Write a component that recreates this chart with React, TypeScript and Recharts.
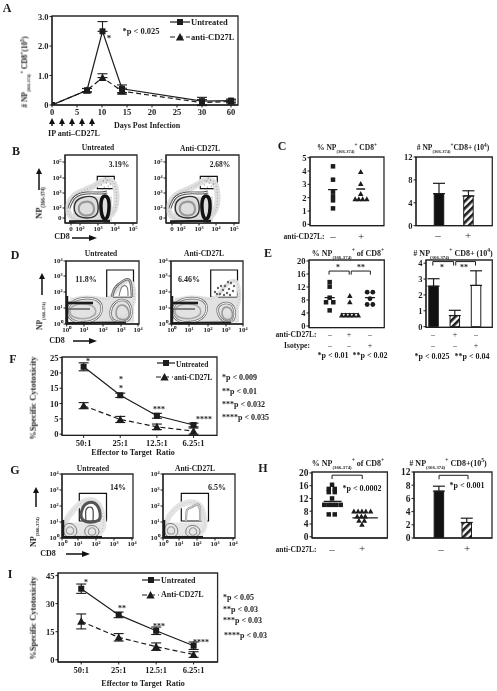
import React from "react";
import {
  ComposedChart,
  Line,
  Bar,
  Cell,
  Scatter,
  XAxis,
  YAxis,
  ErrorBar,
  ReferenceArea,
  ReferenceLine,
} from "recharts";

const FONT = '"Liberation Serif", "Times New Roman", serif';
const INK = "#1c1c1c";
const PAD_L = 30;
const PAD_R = 6;
const PAD_T = 6;
const PAD_B = 24;

// Panel A: kinetics (x is the broken axis position, 35.8 is printed as 60)
const aDays = [0, 7, 10.1, 14, 30, 35.8];
const aUntreated = [0, 0.5, 2.5, 0.55, 0.13, 0.15];
const aUntreatedErr = [0, 0.06, [0, 0.33], 0.13, 0.13, 0.05];
const aAnti = [0, 0.5, 0.93, 0.47, 0.08, 0.12];
const aAntiErr = [0, 0.06, [0, 0.13], 0.1, 0.1, 0.05];
const aTicks = [0, 5, 10, 15, 20, 25, 30, 35.8];
const aYTicks = [0, 1, 2, 3];

// Panels C, E, H: per-mouse scatter values
const cSquareX = [1, 1, 1, 1, 1, 1];
const cSquareY = [4.35, 3.35, 2.45, 2.1, 1.8, 1.2];
const cTriangleX = [2, 2, 2, 1.8, 1.93, 2.07, 2.22];
const cTriangleY = [3.95, 3.05, 2.3, 1.9, 1.9, 1.9, 1.9];
const cMeans = [2.6, 2.65];

const eSquareX = [1, 1, 1, 0.82, 1.18, 1];
const eSquareY = [13.5, 12.1, 8.7, 7.3, 7.3, 4.8];
const eTriangleX = [2, 2, 1.6, 1.8, 2, 2.2, 2.42];
const eTriangleY = [9.3, 7.4, 3.3, 3.3, 3.3, 3.3, 3.3];
const eCircleX = [2.86, 3.14, 3, 2.86, 3.14];
const eCircleY = [10.4, 10.4, 8.4, 6.6, 6.6];
const eMeans = [8.7, 3.8, 8.7];

const hSquareX = [1, 0.89, 1.09, 0.89, 1.09, 1, 0.74, 0.88, 1, 1.14, 1.29, 0.89, 1.09];
const hSquareY = [16.3, 15, 15, 14, 14, 12, 10, 10, 10, 10, 10, 7, 7];
const hTriangleX = [1.73, 1.87, 2, 2.13, 2.29, 1.84, 1.98, 2.11, 1.9, 2.08, 2];
const hTriangleY = [8, 8, 8, 8, 8, 6.4, 6.4, 6.4, 5.1, 5.1, 3.8];
const hMeans = [11.1, 5.9];

// Panels C, E, H: bars
const cBarValues = [5.6, 5.2];
const cBarErr = [[0, 1.8], [0, 0.9]];
const eBarValues = [2.55, 0.7, 2.6];
const eBarErr = [[0, 0.47], [0, 0.33], [0, 0.92]];
const hBarValues = [7.1, 2.35];
const hBarErr = [[0, 0.75], [0, 0.65]];

// Panels F and I: cytotoxicity
const ratioTicks = [1, 2, 3, 4];
const ratioLabels = ["50:1", "25:1", "12.5:1", "6.25:1"];
const fUntreated = [22, 12.7, 6, 3];
const fUntreatedErr = [1.3, 0.7, 0.8, 0.6];
const fAnti = [9.3, 4.8, 2.4, 1.0];
const fAntiErr = [1.0, 1.0, 0.9, 1.0];
const iUntreated = [38, 24, 15.5, 7.5];
const iUntreatedErr = [2.5, 1.5, 2, 2];
const iAnti = [20.5, 12, 7, 2.8];
const iAntiErr = [4, 2, 2, 1.5];

// Flow plots: channels, contours
const bXTicks = [6, 15, 33, 50, 68];
const bXLabels = ["0", "10²", "10³", "10⁴", "10⁵"];
const bYTicks = [5, 15, 30, 45, 61];
const bYLabels = ["0", "10²", "10³", "10⁴", "10⁵"];
const dLogLabels = ["10⁰", "10¹", "10²", "10³", "10⁴"];
const dXTicks = [0.7, 18, 37, 55, 72];
const dYTicks = [0, 16, 32, 48, 63];
const gXTicks = [0, 16, 34, 52, 70];
const gYTicks = [0, 16, 32, 48, 64];

const bFill = [[8, 14], [47, 14]];
const bCloud = [[5, 4], [6, 22], [14, 30], [30, 35], [36, 41], [46, 41], [49, 32], [49, 4]];
const bArch = [[4, 15], [10, 26], [22, 30], [35, 30], [42, 31]];
const bLeftBlob = [[11, 6], [10, 20], [17, 25], [30, 26], [32, 18], [32, 6]];
const bLeftInner = [[15, 8], [14, 18], [20, 21], [28, 20], [29, 8]];
const bRightBlob = [[37, 26], [43, 26], [44, 15], [42, 5], [38, 5], [36, 15]];
const bBase = [[4, 1.5], [45, 2]];
const bGateDots = [[36, 38], [39, 36], [41, 40], [43, 37], [38, 42], [42, 43], [45, 39], [40, 45], [37, 34], [44, 34]];

const dFill = [[4, 14], [68, 14]];
const dCloud = [[5, 4], [5, 26], [30, 27], [43, 23], [49, 33], [58, 42], [65, 41], [66, 4]];
const dLeftBlob = [[3, 23], [28, 26], [36, 17], [30, 3], [3, 2]];
const dLeftInner = [[5, 19], [24, 20], [30, 13], [25, 6], [5, 6]];
const dBandTop = [[2, 21], [27, 21]];
const dBandMid = [[2, 15], [24, 15]];
const dRightBlob = [[48, 20], [56, 24], [64, 20], [65, 3], [47, 3], [45, 12]];
const dRightInner = [[51, 17], [57, 19], [62, 15], [63, 5], [50, 5]];
const dArch = [[46, 27], [49, 36], [57, 43], [64, 43], [66, 27]];
const dArchInner = [[53, 28], [56, 37], [61, 37], [62, 28]];
const dBase = [[2, 1], [60, 1.5]];
const dEdge = [[1, 0], [1, 28]];
const d2RightBlob = [[48, 18], [56, 21], [63, 17], [63, 3], [52, 3], [47, 12]];
const d2RightInner = [[51, 15], [57, 17], [61, 13], [61, 5], [52, 5]];
const d2GateDots = [[44, 32], [47, 36], [49, 30], [52, 34], [54, 38], [56, 31], [58, 35], [60, 41], [62, 33], [57, 42], [50, 38], [63, 38], [46, 30], [59, 29], [53, 29]];

const gFill = [[3, 8], [40, 8]];
const gCloud = [[4, 4], [5, 17], [11, 25], [21, 36], [35, 36], [39, 20], [40, 4]];
const gLeftBlob = [[2, 14], [12, 14], [15, 6], [12, 1.5], [2, 1.5]];
const gLeftInner = [[5, 11], [11, 11], [12, 4], [4, 4]];
const gRightBlob = [[25, 12], [34, 12], [37, 6], [34, 1.5], [25, 1.5], [23, 6]];
const gRightInner = [[27, 10], [33, 10], [34, 3], [26, 3]];
const gArch = [[19, 17], [21, 30], [26, 35], [35, 34], [38, 21], [35, 17]];
const gArchInner = [[24, 17], [24, 28], [28, 31], [31, 28], [31, 17]];
const gBase = [[1, 1], [40, 1]];
const gEdge = [[1, 0], [1, 18]];
const g2Arch = [[23, 17], [24, 28], [29, 31], [36, 33], [37, 17]];
const g2Cloud = [[4, 4], [5, 17], [11, 26], [21, 34], [36, 34], [39, 20], [40, 4]];

const toPoints = (xs: number[], ys: number[]) => xs.map((x, i) => ({ x, y: ys[i] }));
const ring = (pairs: number[][]) => pairs.map(([x, y]) => ({ x, y }));
const seriesTable = (xs: number[], a: number[], aErr: any[], b: number[], bErr: any[]) =>
  xs.map((x, i) => ({ x, a: a[i], aErr: aErr[i], b: b[i], bErr: bErr[i] }));
const barTable = (values: number[], errs: number[][]) =>
  values.map((value, i) => ({ x: i + 1, value, err: errs[i] }));

// basisClosed pulls a loop inwards, so push the read points out a little
const inflate = (pairs: number[][]) => {
  const cx = pairs.reduce((s, p) => s + p[0], 0) / pairs.length;
  const cy = pairs.reduce((s, p) => s + p[1], 0) / pairs.length;
  return pairs.map(([x, y]) => [cx + (x - cx) * 1.15, Math.max(0.3, cy + (y - cy) * 1.15)]);
};

const squareOf = (s: number) => (props: any) => (
  <rect key={props.key} x={props.cx - s / 2} y={props.cy - s / 2} width={s} height={s} fill={INK} />
);
const triangleOf = (s: number) => (props: any) => (
  <polygon
    key={props.key}
    points={`${props.cx},${props.cy - s * 0.55} ${props.cx + s * 0.55},${props.cy + s * 0.45} ${props.cx - s * 0.55},${props.cy + s * 0.45}`}
    fill={INK}
  />
);
const SquareMark = squareOf(6);
const TriangleMark = triangleOf(7.5);
const SmallSquare = squareOf(4.5);
const SmallTriangle = triangleOf(5);
const CircleMark = (props: any) => <circle key={props.key} cx={props.cx} cy={props.cy} r={2.4} fill={INK} />;
const SmallDot = (props: any) => <circle key={props.key} cx={props.cx} cy={props.cy} r={0.6} fill="#666" />;
const GateDot = (props: any) => <circle key={props.key} cx={props.cx} cy={props.cy} r={1.2} fill="#666" />;

const tickStyle = { fontFamily: FONT, fontWeight: 700, fontSize: 8.5, fill: INK };

function Panel(props: any) {
  const { box, xDomain, yDomain, xTicks, yTicks, xFormat, yFormat, data, tickMargin, children, size } = props;
  return (
    <div style={{ position: "absolute", left: box[0] - PAD_L, top: box[1] - PAD_T, willChange: "transform" }}>
      <ComposedChart
        width={box[2] - box[0] + PAD_L + PAD_R}
        height={box[3] - box[1] + PAD_T + PAD_B}
        data={data}
        margin={{ top: PAD_T, right: PAD_R, left: 0, bottom: 0 }}
      >
        <defs>
          <pattern id="hatch" width="5" height="5" patternUnits="userSpaceOnUse" patternTransform="rotate(-45)">
            <rect width="5" height="5" fill="#fff" />
            <rect width="5" height="2.6" fill={INK} />
          </pattern>
        </defs>
        <XAxis
          dataKey="x"
          type="number"
          domain={xDomain}
          ticks={xTicks}
          tickFormatter={xFormat}
          interval={0}
          allowDataOverflow
          height={PAD_B}
          stroke={INK}
          tick={{ ...tickStyle, fontSize: size ?? 8.5 }}
          tickSize={2.5}
          tickMargin={tickMargin ?? 1}
        />
        <YAxis
          dataKey="y"
          type="number"
          domain={yDomain}
          ticks={yTicks}
          tickFormatter={yFormat}
          interval={0}
          allowDataOverflow
          width={PAD_L}
          stroke={INK}
          tick={{ ...tickStyle, fontSize: size ?? 8.5 }}
          tickSize={2.5}
          tickMargin={1}
        />
        {children}
        <ReferenceArea
          x1={xDomain[0]}
          x2={xDomain[1]}
          y1={yDomain[0]}
          y2={yDomain[1]}
          fill="none"
          stroke="#2a2a2a"
          strokeWidth={1.3}
          ifOverflow="visible"
        />
      </ComposedChart>
    </div>
  );
}

const contour = (pairs: number[][], stroke: string, width: number, dash?: string, closed = true) => (
  <Line
    data={ring(closed ? inflate(pairs) : pairs)}
    dataKey="y"
    type={closed ? "basisClosed" : "natural"}
    stroke={stroke}
    strokeWidth={width}
    strokeDasharray={dash}
    dot={false}
    activeDot={false}
    legendType="none"
    isAnimationActive={false}
  />
);
const segment = (pairs: number[][], width = 1, stroke = INK) => (
  <Line
    data={ring(pairs)}
    dataKey="y"
    type="linear"
    stroke={stroke}
    strokeWidth={width}
    dot={false}
    activeDot={false}
    legendType="none"
    isAnimationActive={false}
  />
);
// Reference lines leave the bar band size alone, a Line here would shrink the bars
const bracket = (x1: number, x2: number, yTop: number, yEnd: number) =>
  [
    [[x1, yEnd], [x1, yTop]],
    [[x1, yTop], [x2, yTop]],
    [[x2, yTop], [x2, yEnd]],
  ].map((seg, i) => (
    <ReferenceLine
      key={`${x1}-${i}`}
      segment={seg.map(([x, y]) => ({ x, y }))}
      stroke={INK}
      strokeWidth={1}
      ifOverflow="visible"
    />
  ));
const gate = (x1: number, x2: number, y1: number, y2: number) => (
  <ReferenceArea x1={x1} x2={x2} y1={y1} y2={y2} fill="none" stroke="#111" strokeWidth={1.2} />
);
const marks = (xs: number[], ys: number[], shape: any) => (
  <Scatter data={toPoints(xs, ys)} dataKey="y" shape={shape} isAnimationActive={false} />
);
const bars = (fills: string[]) => (
  <Bar dataKey="value" barSize={9.5} stroke={INK} strokeWidth={1} isAnimationActive={false}>
    {fills.map((fill, i) => (
      <Cell key={i} fill={fill} />
    ))}
    <ErrorBar dataKey="err" direction="y" width={6} stroke={INK} strokeWidth={1.2} isAnimationActive={false} />
  </Bar>
);
const lineSeries = (key: string, errKey: string, dashed: boolean, mark: any) => (
  <Line
    dataKey={key}
    type="linear"
    stroke={INK}
    strokeWidth={1.2}
    strokeDasharray={dashed ? "5 3" : undefined}
    dot={mark}
    legendType="none"
    isAnimationActive={false}
  >
    <ErrorBar dataKey={errKey} direction="y" width={5} stroke={INK} strokeWidth={1.1} isAnimationActive={false} />
  </Line>
);

// Flow plot panels
const FlowB = ({ box, gateX }: any) => (
  <Panel
    box={box}
    xDomain={[0, box[2] - box[0]]}
    yDomain={[0, box[3] - box[1]]}
    xTicks={bXTicks}
    yTicks={bYTicks}
    xFormat={(v: number) => bXLabels[bXTicks.indexOf(v)]}
    yFormat={(v: number) => bYLabels[bYTicks.indexOf(v)]}
    size={7}
  >
    {segment(bFill, 25, "#dedede")}
    {contour(bCloud, "#dedede", 6)}
    {contour(bCloud, "#999", 0.8, "1 2")}
    {contour(bArch, "#555", 3, undefined, false)}
    {contour(bArch, "#fff", 1, undefined, false)}
    {contour(bLeftBlob, "#333", 1.4)}
    {contour(bLeftInner, "#999", 2.2)}
    {contour(bRightBlob, "#111", 3.5)}
    {segment(bBase, 2.5)}
    <Scatter
      data={ring(bGateDots).map((p) => ({ x: p.x + gateX - 32, y: p.y }))}
      dataKey="y"
      shape={SmallDot}
      isAnimationActive={false}
    />
    {gate(gateX, gateX + 17, 34.3, 46.7)}
  </Panel>
);

const FlowD = ({ box, gateX, treated }: any) => (
  <Panel
    box={box}
    xDomain={[0, box[2] - box[0]]}
    yDomain={[0, box[3] - box[1]]}
    xTicks={dXTicks}
    yTicks={dYTicks}
    xFormat={(v: number) => dLogLabels[dXTicks.indexOf(v)]}
    yFormat={(v: number) => dLogLabels[dYTicks.indexOf(v)]}
    size={7}
  >
    {segment(dFill, 25, "#e2e2e2")}
    {contour(dCloud, "#e2e2e2", 4)}
    {contour(dCloud, "#aaa", 0.7, "1 2")}
    {contour(dLeftBlob, "#777", 2.6)}
    {contour(dLeftBlob, "#fff", 1)}
    {contour(dLeftInner, "#aaa", 1.6)}
    {segment(dBandTop, 2.6)}
    {segment(dBandMid, 1.8, "#777")}
    {contour(treated ? dRightBlob : d2RightBlob, "#777", 2.6)}
    {contour(treated ? dRightBlob : d2RightBlob, "#fff", 1)}
    {contour(treated ? dRightInner : d2RightInner, "#999", 1.6)}
    {treated ? contour(dArch, "#666", 2.6, undefined, false) : null}
    {treated ? contour(dArch, "#ddd", 0.8, undefined, false) : null}
    {treated ? contour(dArchInner, "#777", 1.1, undefined, false) : null}
    {treated ? null : <Scatter data={ring(d2GateDots)} dataKey="y" shape={GateDot} isAnimationActive={false} />}
    {segment(dBase, 2)}
    {segment(dEdge, 2.5)}
    {gate(gateX, gateX + 26.8, 26.7, 54)}
  </Panel>
);

const FlowG = ({ box, gateX, treated }: any) => (
  <Panel
    box={box}
    xDomain={[0, box[2] - box[0]]}
    yDomain={[0, box[3] - box[1]]}
    xTicks={gXTicks}
    yTicks={gYTicks}
    xFormat={(v: number) => dLogLabels[gXTicks.indexOf(v)]}
    yFormat={(v: number) => dLogLabels[gYTicks.indexOf(v)]}
    size={7}
  >
    {segment(gFill, 15, "#e6e6e6")}
    {contour(treated ? gCloud : g2Cloud, "#e4e4e4", 6)}
    {contour(treated ? gCloud : g2Cloud, "#b5b5b5", 0.7, "1 2")}
    {contour(gLeftBlob, "#777", 1)}
    {contour(gLeftInner, "#999", 1.1)}
    {contour(gRightBlob, "#777", 1)}
    {contour(gRightInner, "#999", 1.1)}
    {treated ? contour(gArch, "#555", 3) : contour(g2Arch, "#999", 2.2, undefined, false)}
    {treated ? contour(gArchInner, "#444", 1.2, undefined, false) : contour(g2Arch, "#eee", 0.7, undefined, false)}
    {segment(gBase, 2)}
    {segment(gEdge, 2.5)}
    {gate(gateX, gateX + 27.2, 17, 44.7)}
  </Panel>
);

// Text helpers
function T({ x, y, size = 8, left, rotate, weight = 700, children }: any) {
  const shift = left ? "translate(0,-50%)" : "translate(-50%,-50%)";
  return (
    <span
      style={{
        position: "absolute",
        left: x,
        top: y,
        transform: rotate ? `${shift} rotate(-90deg)` : shift,
        willChange: "transform",
        fontFamily: FONT,
        fontWeight: weight,
        fontSize: size,
        lineHeight: 1,
        color: INK,
        whiteSpace: "nowrap",
      }}
    >
      {children}
    </span>
  );
}
const Sub = ({ children }: any) => <sub style={{ fontSize: "0.6em", lineHeight: 0 }}>{children}</sub>;
const Sup = ({ children }: any) => <sup style={{ fontSize: "0.7em", lineHeight: 0 }}>{children}</sup>;
const NP = () => (
  <>
    NP<Sub>(366-374)</Sub>
  </>
);

const UpArrow = ({ x, y1, y2 }: any) => (
  <g>
    <line x1={x} x2={x} y1={y1 + 4} y2={y2} stroke="#111" strokeWidth={1.5} />
    <polygon points={`${x},${y1} ${x + 3},${y1 + 6} ${x - 3},${y1 + 6}`} fill="#111" />
  </g>
);
const RightArrow = ({ x1, x2, y }: any) => (
  <g>
    <line x1={x1} x2={x2 - 5} y1={y} y2={y} stroke="#111" strokeWidth={1.5} />
    <polygon points={`${x2},${y} ${x2 - 8},${y - 3} ${x2 - 8},${y + 3}`} fill="#111" />
  </g>
);
const KeyLine = ({ x1, x2, y, dashed, triangle }: any) => {
  const cx = (x1 + x2) / 2;
  return (
    <g>
      <line x1={x1} x2={x2} y1={y} y2={y} stroke={INK} strokeWidth={1.2} strokeDasharray={dashed ? "5 3" : undefined} />
      {triangle ? <TriangleMark cx={cx} cy={y} /> : <SquareMark cx={cx} cy={y} />}
    </g>
  );
};

export default function App() {
  const aTable = seriesTable(aDays, aUntreated, aUntreatedErr, aAnti, aAntiErr);
  const fTable = seriesTable(ratioTicks, fUntreated, fUntreatedErr, fAnti, fAntiErr);
  const iTable = seriesTable(ratioTicks, iUntreated, iUntreatedErr, iAnti, iAntiErr);
  const ratioFormat = (v: number) => ratioLabels[v - 1];

  return (
    <div style={{ position: "absolute", left: 0, top: 0, width: 497, height: 691, background: "#fff", overflow: "hidden" }}>
      {/* A */}
      <Panel
        box={[52, 15.5, 238, 104.5]}
        xDomain={[0, 37.2]}
        yDomain={[0, 3.02]}
        xTicks={aTicks}
        yTicks={aYTicks}
        xFormat={(v: number) => (v > 35 ? "60" : String(v))}
        yFormat={(v: number) => (v === 0 ? "0" : v.toFixed(1))}
        data={aTable}
      >
        {lineSeries("b", "bErr", true, TriangleMark)}
        {lineSeries("a", "aErr", false, SquareMark)}
      </Panel>

      {/* B */}
      <FlowB box={[65, 155, 137, 223]} gateX={32.3} />
      <FlowB box={[166, 155, 239, 223]} gateX={34.3} />

      {/* D */}
      <FlowD box={[66, 261, 139, 324]} gateX={40.7} treated />
      <FlowD box={[171, 261, 243, 324]} gateX={39.7} />

      {/* C */}
      <Panel
        box={[310.3, 157, 384.3, 225.7]}
        xDomain={[0.17, 2.84]}
        yDomain={[-0.1, 5.05]}
        xTicks={[]}
        yTicks={[0, 1, 2, 3, 4, 5]}
      >
        {marks(cSquareX, cSquareY, SmallSquare)}
        {marks(cTriangleX, cTriangleY, SmallTriangle)}
        {segment([[0.82, cMeans[0]], [1.16, cMeans[0]]], 1.3)}
        {segment([[1.84, cMeans[1]], [2.16, cMeans[1]]], 1.3)}
      </Panel>
      <Panel
        box={[415.7, 157, 492, 225.7]}
        xDomain={[0.22, 2.81]}
        yDomain={[0, 12]}
        xTicks={[]}
        yTicks={[0, 4, 8, 12]}
        data={barTable(cBarValues, cBarErr)}
      >
        {bars(["#111", "url(#hatch)"])}
      </Panel>

      {/* E */}
      <Panel
        box={[309, 259.7, 384.3, 327.3]}
        xDomain={[-0.025, 3.71]}
        yDomain={[-0.5, 20.3]}
        xTicks={[]}
        yTicks={[0, 4, 8, 12, 16, 20]}
      >
        {marks(eSquareX, eSquareY, SmallSquare)}
        {marks(eTriangleX, eTriangleY, SmallTriangle)}
        {marks(eCircleX, eCircleY, CircleMark)}
        {segment([[0.75, eMeans[0]], [1.25, eMeans[0]]], 1.3)}
        {segment([[1.55, eMeans[1]], [2.45, eMeans[1]]], 1)}
        {segment([[2.75, eMeans[2]], [3.25, eMeans[2]]], 1.3)}
        {bracket(0.97, 1.97, 16.9, 15.8)}
        {bracket(2.07, 3.02, 16.9, 15.8)}
      </Panel>
      <Panel
        box={[426, 259.7, 492.3, 327]}
        xDomain={[0.65, 3.77]}
        yDomain={[-0.04, 4.2]}
        xTicks={[]}
        yTicks={[0, 1, 2, 3, 4]}
        data={barTable(eBarValues, eBarErr)}
      >
        {bars(["#111", "url(#hatch)", "#fff"])}
        {bracket(0.97, 1.95, 4.1, 3.85)}
        {bracket(2.05, 2.98, 4.1, 3.85)}
      </Panel>

      {/* F */}
      <Panel
        box={[61.7, 357.3, 216.7, 435.7]}
        xDomain={[0.41, 4.64]}
        yDomain={[-0.4, 25.2]}
        xTicks={ratioTicks}
        yTicks={[0, 5, 10, 15, 20, 25]}
        xFormat={ratioFormat}
        tickMargin={2}
        data={fTable}
      >
        {lineSeries("b", "bErr", true, TriangleMark)}
        {lineSeries("a", "aErr", false, SquareMark)}
      </Panel>

      {/* G */}
      <FlowG box={[62, 474, 133, 538]} gateX={17.3} treated />
      <FlowG box={[163, 474, 235, 538]} gateX={18.3} />

      {/* H */}
      <Panel
        box={[312.3, 472.3, 387.7, 538.3]}
        xDomain={[0.33, 2.85]}
        yDomain={[-0.4, 20.3]}
        xTicks={[]}
        yTicks={[0, 4, 8, 12, 16, 20]}
        size={9.5}
      >
        {marks(hSquareX, hSquareY, SmallSquare)}
        {marks(hTriangleX, hTriangleY, SmallTriangle)}
        {segment([[0.72, hMeans[0]], [1.32, hMeans[0]]], 1.2)}
        {segment([[1.68, hMeans[1]], [2.53, hMeans[1]]], 1.2)}
        {bracket(1, 2.01, 19.3, 18.1)}
      </Panel>
      <Panel
        box={[414.3, 472.3, 492.3, 538.3]}
        xDomain={[0.1, 2.9]}
        yDomain={[0, 10]}
        xTicks={[]}
        yTicks={[0, 2, 4, 6, 8, 10]}
        yFormat={(v: number) => (v === 10 ? "12" : String(v))}
        size={9.5}
        data={barTable(hBarValues, hBarErr)}
      >
        {bars(["#111", "url(#hatch)"])}
        {bracket(1, 2.04, 9.5, 8.9)}
      </Panel>

      {/* I */}
      <Panel
        box={[57.7, 573.3, 217.3, 662.3]}
        xDomain={[0.38, 4.64]}
        yDomain={[-1.2, 46.4]}
        xTicks={ratioTicks}
        yTicks={[0, 15, 30, 45]}
        xFormat={ratioFormat}
        tickMargin={2}
        data={iTable}
      >
        {lineSeries("b", "bErr", true, TriangleMark)}
        {lineSeries("a", "aErr", false, SquareMark)}
      </Panel>

      {/* annotation arrows and legend keys */}
      <svg width={497} height={691} style={{ position: "absolute", left: 0, top: 0, pointerEvents: "none" }}>
        {[52, 62, 72, 82, 92].map((x) => (
          <UpArrow key={x} x={x} y1={118} y2={126} />
        ))}
        <UpArrow x={39} y1={168} y2={190} />
        <RightArrow x1={72} x2={97} y={238} />
        <UpArrow x={42} y1={273} y2={295} />
        <RightArrow x1={73} x2={97} y={341} />
        <UpArrow x={36} y1={487} y2={507} />
        <RightArrow x1={66} x2={90} y={554} />
        <KeyLine x1={170} x2={190} y={22} />
        <KeyLine x1={170} x2={190} y={37} dashed triangle />
        <KeyLine x1={157} x2={175} y={363} />
        <KeyLine x1={156} x2={173} y={377} dashed triangle />
        <KeyLine x1={142} x2={160} y={580} />
        <KeyLine x1={142} x2={159} y={595} dashed triangle />
      </svg>

      {/* A text */}
      <T x={7} y={8} size={12}>A</T>
      <T x={141} y={31} size={8.5}>*p &lt; 0.025</T>
      <T x={109} y={38} size={9}>*</T>
      <T x={191} y={22} left size={8.5}>Untreated</T>
      <T x={191} y={37} left size={8.5}>anti-CD27L</T>
      <T x={25} y={72} rotate size={7.5}># <NP /><Sup>+</Sup> CD8<Sup>+</Sup>(10<Sup>5</Sup>)</T>
      <T x={147} y={126}>Days Post Infection</T>
      <T x={74} y={134}>IP anti–CD27L</T>

      {/* B text */}
      <T x={16} y={151} size={12}>B</T>
      <T x={98} y={148} size={7.5}>Untreated</T>
      <T x={200} y={149} size={7.5}>Anti-CD27L</T>
      <T x={119} y={165} size={7.5}>3.19%</T>
      <T x={220} y={165} size={7.5}>2.68%</T>
      <T x={39} y={203} rotate size={8.5}><NP /></T>
      <T x={62} y={237} size={8}>CD8</T>

      {/* C text */}
      <T x={282} y={146} size={12}>C</T>
      <T x={347} y={148} size={7.5}>% <NP /><Sup>+</Sup> CD8<Sup>+</Sup></T>
      <T x={453} y={148} size={7.5}># <NP /><Sup>+</Sup>CD8+ (10<Sup>4</Sup>)</T>
      <T x={304} y={237} size={7.5}>anti-CD27L:</T>
      <T x={333} y={236} size={11} weight={400}>–</T>
      <T x={361} y={236} size={11} weight={400}>+</T>
      <T x={438} y={235} size={11} weight={400}>–</T>
      <T x={468} y={235} size={11} weight={400}>+</T>

      {/* D text */}
      <T x={15} y={255} size={12}>D</T>
      <T x={101} y={254} size={7.5}>Untreated</T>
      <T x={204} y={254} size={7.5}>Anti-CD27L</T>
      <T x={86} y={280} size={8}>11.8%</T>
      <T x={189} y={280} size={8}>6.46%</T>
      <T x={40} y={316} rotate size={7.5}><NP /></T>
      <T x={57} y={341} size={8}>CD8</T>

      {/* E text */}
      <T x={268} y={253} size={12}>E</T>
      <T x={348} y={254} size={8}>% <NP /><Sup>+</Sup> of CD8<Sup>+</Sup></T>
      <T x={453} y={254} size={8}># <NP /><Sup>+</Sup> CD8+ (10<Sup>4</Sup>)</T>
      <T x={338} y={268} size={8}>*</T>
      <T x={361} y={268} size={8}>**</T>
      <T x={442} y={268} size={8}>*</T>
      <T x={464} y={268} size={8}>**</T>
      <T x={296} y={335} size={7.5}>anti-CD27L:</T>
      <T x={297} y={346} size={7.5}>Isotype:</T>
      {[330, 370, 433, 476].map((x) => (
        <T key={x} x={x} y={335} size={8} weight={400}>–</T>
      ))}
      {[349, 455].map((x) => (
        <T key={x} x={x} y={335} size={8} weight={400}>+</T>
      ))}
      {[330, 349, 433, 455].map((x) => (
        <T key={x} x={x} y={346} size={8} weight={400}>–</T>
      ))}
      {[370, 476].map((x) => (
        <T key={x} x={x} y={346} size={8} weight={400}>+</T>
      ))}
      <T x={333} y={356} size={8}>*p &lt; 0.01</T>
      <T x={370} y={356} size={8}>**p &lt; 0.02</T>
      <T x={432} y={357} size={8}>*p &lt; 0.025</T>
      <T x={472} y={357} size={8}>**p &lt; 0.04</T>

      {/* F text */}
      <T x={13} y={359} size={12}>F</T>
      <T x={33} y={398} rotate size={8.5}>%Specific Cytotoxicity</T>
      <T x={133} y={453} size={8}>Effector to Target&nbsp; Ratio</T>
      <T x={176} y={365} left size={7.5}>Untreated</T>
      <T x={174} y={378} left size={7.5}>anti-CD27L</T>
      <T x={222} y={378} left size={8}>*p &lt; 0.009</T>
      <T x={222} y={392} left size={8}>**p &lt; 0.01</T>
      <T x={222} y={405} left size={8}>***p &lt; 0.032</T>
      <T x={222} y={418} left size={8}>****p &lt; 0.035</T>
      <T x={88} y={362} size={8}>*</T>
      <T x={121} y={380} size={8}>*</T>
      <T x={121} y={389} size={8}>*</T>
      <T x={159} y={410} size={8}>***</T>
      <T x={204} y={420} size={8}>****</T>

      {/* G text */}
      <T x={15} y={470} size={12}>G</T>
      <T x={93} y={469} size={7.5}>Untreated</T>
      <T x={195} y={469} size={7.5}>Anti-CD27L</T>
      <T x={118} y={488} size={8}>14%</T>
      <T x={217} y={488} size={8}>6.5%</T>
      <T x={34} y={532} rotate size={8}><NP /></T>
      <T x={48} y={554} size={8}>CD8</T>

      {/* H text */}
      <T x={263} y={468} size={12}>H</T>
      <T x={348} y={464} size={8}>% <NP /><Sup>+</Sup> of CD8<Sup>+</Sup></T>
      <T x={448} y={464} size={8}># <NP /><Sup>+</Sup> CD8+(10<Sup>5</Sup>)</T>
      <T x={362} y={489} size={8}>*p &lt; 0.0002</T>
      <T x={467} y={486} size={8}>*p &lt; 0.001</T>
      <T x={296} y={550} size={7.5}>anti-CD27L:</T>
      <T x={332} y={549} size={11} weight={400}>–</T>
      <T x={362} y={548} size={11} weight={400}>+</T>
      <T x={441} y={549} size={11} weight={400}>–</T>
      <T x={467} y={548} size={11} weight={400}>+</T>

      {/* I text */}
      <T x={10} y={574} size={12}>I</T>
      <T x={33} y={618} rotate size={8.5}>%Specific Cytotoxicity</T>
      <T x={143} y={684} size={8}>Effector to Target&nbsp; Ratio</T>
      <T x={161} y={581} left size={8}>Untreated</T>
      <T x={161} y={595} left size={8}>Anti-CD27L</T>
      <T x={223} y={598} left size={8}>*p &lt; 0.05</T>
      <T x={223} y={610} left size={8}>**p &lt; 0.03</T>
      <T x={223} y={621} left size={8}>***p &lt; 0.03</T>
      <T x={224} y={636} left size={8}>****p &lt; 0.03</T>
      <T x={86} y={583} size={8}>*</T>
      <T x={122} y={609} size={8}>**</T>
      <T x={159} y={627} size={8}>***</T>
      <T x={201} y={643} size={8}>****</T>
    </div>
  );
}
